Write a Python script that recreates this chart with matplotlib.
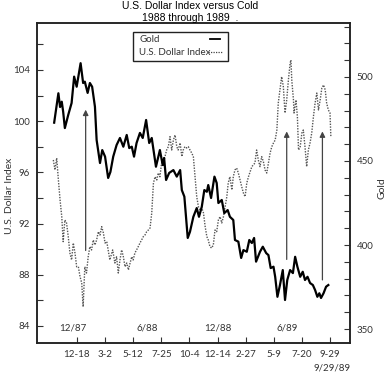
import numpy as np
import matplotlib
matplotlib.use("Agg")
import matplotlib.pyplot as plt
from matplotlib.patches import Rectangle

# eje x en semanas (12-18 = semana 10, una marca cada 10 semanas)
semanas_ticks = [10, 20, 30, 40, 50, 60, 70, 80, 90, 100]
etiquetas_ticks = ['12-18', '3-2', '5-12', '7-25', '10-4', '12-14', '2-27', '5-9', '7-20', '9-29']

# Oro (eje derecho)
x_gold = [1.9, 3.4, 4.0, 4.6, 5.1, 5.7, 6.9, 8.1, 9.0, 9.9,
          11.3, 12.2, 12.8, 13.8, 14.6, 15.4, 16.4, 17.0, 18.2, 19.0,
          20.0, 21.1, 21.9, 22.9, 24.1, 25.3, 26.5, 27.7, 28.6, 29.5,
          30.3, 31.2, 32.4, 33.4, 34.6, 35.7, 36.6, 38.1, 39.5, 40.5,
          41.0, 41.7, 42.8, 44.3, 45.5, 46.7, 47.3, 48.2, 49.4, 50.2,
          51.4, 52.6, 53.4, 54.4, 55.3, 56.2, 56.7, 57.7, 58.9, 59.7,
          60.3, 61.5, 62.4, 63.6, 64.4, 65.6, 66.2, 67.4, 68.4, 69.2,
          70.4, 71.3, 72.2, 73.0, 73.7, 75.1, 76.1, 77.3, 78.1, 78.9,
          79.9, 80.5, 81.3, 82.2, 83.2, 84.0, 84.8, 85.8, 86.8, 87.6,
          88.4, 89.4, 90.3, 91.1, 92.0, 92.9, 93.9, 94.7, 95.5, 96.2,
          96.8, 97.7, 98.6, 99.4]
gold = [472.8, 490.3, 482.1, 485.3, 479.3, 469.6, 477.4, 484.5, 500.2, 494.2,
        508.2, 496.4, 497.2, 490.5, 496.4, 494.2, 482.3, 462.5, 448.8, 456.5,
        452.6, 439.9, 443.5, 452.6, 459.5, 463.7, 458.5, 465.5, 457.7, 458.5,
        452.6, 460.7, 466.7, 463.7, 474.4, 460.7, 463.7, 446.6, 456.5, 447.6,
        451.8, 438.7, 442.9, 444.6, 440.7, 444.6, 432.7, 428.8, 404.2, 407.9,
        416.8, 422.0, 416.8, 422.8, 432.7, 431.7, 435.7, 428.0, 440.7, 436.9,
        425.0, 426.8, 419.0, 420.8, 416.8, 414.9, 403.0, 402.0, 392.3, 397.0,
        396.0, 403.0, 401.2, 404.2, 390.1, 396.0, 399.0, 395.2, 394.0, 386.3,
        387.1, 381.1, 369.2, 376.2, 385.1, 367.3, 379.2, 385.1, 383.3, 393.0,
        387.1, 381.1, 384.1, 379.2, 381.1, 377.4, 376.2, 373.2, 369.2, 371.3,
        368.5, 371.3, 375.2, 376.2]

# Indice del dolar (eje izquierdo)
x_dollar = [1.6, 2.2, 2.8, 3.4, 4.0, 4.6, 5.1, 5.7, 6.3, 6.9,
            7.5, 8.1, 8.7, 9.3, 9.9, 10.5, 11.1, 11.7, 12.2, 12.8,
            13.4, 14.0, 14.6, 15.2, 15.8, 16.4, 17.0, 17.6, 18.2, 18.8,
            19.4, 20.0, 20.6, 21.1, 21.7, 22.7, 23.5, 24.1, 24.7, 25.3,
            25.9, 26.5, 27.1, 27.7, 28.3, 28.9, 29.5, 30.0, 30.6, 31.2,
            31.8, 32.4, 33.0, 33.6, 34.2, 34.8, 35.4, 36.0, 36.6, 37.2,
            37.8, 38.4, 38.9, 39.5, 40.1, 40.7, 41.3, 41.9, 42.5, 43.1,
            43.7, 44.3, 44.9, 45.5, 46.0, 46.7, 47.3, 47.8, 48.4, 49.0,
            49.6, 50.2, 50.8, 51.4, 52.0, 52.6, 53.2, 53.8, 54.4, 55.0,
            55.6, 56.2, 56.7, 57.3, 57.9, 58.5, 59.1, 59.7, 60.3, 60.9,
            61.5, 62.1, 62.7, 63.3, 63.8, 64.4, 65.1, 65.6, 66.2, 66.8,
            67.4, 68.0, 68.6, 69.2, 69.8, 70.4, 71.0, 71.6, 72.2, 72.7,
            73.3, 73.9, 74.5, 75.1, 75.7, 76.3, 76.9, 77.5, 78.1, 78.7,
            79.3, 79.9, 80.5, 81.1, 81.6, 82.2, 82.8, 83.4, 84.0, 84.6,
            85.2, 85.8, 86.1, 86.4, 87.0, 87.2, 87.9, 88.4, 88.8, 89.4,
            90.0, 90.5, 91.1, 91.7, 92.3, 92.9, 93.5, 94.1, 94.7, 95.3,
            95.9, 96.5, 97.1, 97.7, 98.3, 98.8, 99.4, 100.0, 100.3]
dollar = [96.97, 96.19, 97.12, 95.41, 93.84, 92.54, 90.59, 92.28, 92.05, 91.0,
          89.7, 89.16, 90.48, 89.7, 88.63, 88.63, 87.85, 87.36, 85.5, 88.63,
          88.14, 89.41, 90.2, 89.94, 90.72, 90.33, 90.72, 91.37, 91.11, 91.76,
          91.27, 90.48, 90.59, 89.94, 89.16, 89.94, 88.92, 89.41, 88.14, 89.16,
          89.94, 89.41, 88.63, 88.92, 88.38, 88.92, 89.41, 89.16, 89.7, 89.94,
          90.2, 90.48, 90.72, 90.98, 91.11, 91.37, 91.5, 91.66, 92.83, 95.17,
          95.66, 95.41, 95.95, 95.66, 96.73, 96.97, 97.23, 97.75, 98.01, 98.79,
          97.75, 98.53, 98.92, 98.01, 97.75, 98.3, 97.23, 97.75, 98.01, 97.91,
          98.01, 97.75, 97.52, 97.23, 95.66, 94.1, 93.32, 93.06, 93.22, 92.83,
          91.76, 90.98, 90.72, 90.2, 90.09, 90.33, 91.5, 91.37, 92.28, 92.54,
          92.05, 92.54, 93.32, 94.1, 95.17, 95.66, 94.63, 95.66, 96.19, 96.34,
          95.95, 95.41, 94.88, 94.39, 94.1, 95.17, 95.66, 96.05, 96.45, 96.58,
          96.73, 97.75, 96.97, 96.45, 97.23, 96.84, 96.19, 95.95, 96.73, 97.52,
          98.01, 98.3, 98.53, 99.31, 101.42, 102.44, 103.48, 102.7, 100.64, 101.66,
          103.22, 104.52, 104.78, 103.22, 101.66, 100.64, 101.66, 100.35, 97.75, 98.01,
          99.08, 99.31, 98.01, 96.45, 97.75, 98.3, 99.08, 100.35, 101.42, 102.2,
          100.88, 101.66, 102.59, 102.83, 102.44, 101.42, 100.88, 100.64, 98.79]

# flechas verticales (semana, desde, hasta) en unidades del indice
flechas = [(13.1, 89.9, 100.9), (84.6, 89.2, 99.2), (97.3, 87.6, 99.2)]

# textos de fecha dentro del grafico
fechas = ['12/87', '6/88', '12/88', '6/89']
x_fechas = [8.6, 34.9, 60.2, 84.7]


if __name__ == '__main__':
    plt.rcParams['font.family'] = ['Lato', 'DejaVu Sans']
    gris = '#333333'

    fig = plt.figure(figsize=(3.88, 3.81), dpi=100)
    ax = fig.add_axes([0.0954, 0.0997, 0.8066, 0.8399])
    ax2 = ax.twinx()

    ax.plot(x_dollar, dollar, color='#555555', linestyle=(0, (1, 1)), linewidth=1.0)
    ax2.plot(x_gold, gold, color='black', linewidth=1.6)

    for x, y0, y1 in flechas:
        ax.annotate('', xy=(x, y1), xytext=(x, y0),
                    arrowprops=dict(arrowstyle='-|>', color='#444444', lw=0.9,
                                    mutation_scale=8, shrinkA=0, shrinkB=0))

    ax.set_xlim(-4.2, 107.1)
    ax.set_ylim(82.67, 107.67)
    ax2.set_ylim(341.7, 532.1)

    ax.set_xticks(semanas_ticks)
    ax.set_xticklabels(etiquetas_ticks)
    ax.set_yticks([84, 88, 92, 96, 100, 104])
    ax.set_yticks(np.arange(84, 108, 2), minor=True)
    ax2.set_yticks([350, 400, 450, 500])
    ax2.set_yticks(np.arange(350, 531, 10), minor=True)

    for a in (ax, ax2):
        a.tick_params(which='both', direction='in', length=4, width=0.8,
                      labelsize=7, pad=5, colors=gris)
        for s in a.spines.values():
            s.set_linewidth(1.1)
            s.set_color('#222222')

    for t, x in zip(fechas, x_fechas):
        ax.text(x, 83.84, t, ha='center', va='center', fontsize=7, color=gris)

    ax.set_ylabel('U.S. Dollar Index', fontsize=7.5, color=gris)
    ax.yaxis.set_label_coords(-0.072, 0.46)
    ax2.set_ylabel('Gold', fontsize=7.5, color=gris)
    ax2.yaxis.set_label_coords(1.088, 0.484)

    fig.text(332 / 388, 1 - 368 / 381, '9/29/89', ha='center', va='center',
             fontsize=7, color=gris)

    # leyenda dibujada a mano (texto a la izquierda, muestra a la derecha)
    ax.add_patch(Rectangle((0.307, 0.881), 0.303, 0.091, transform=ax.transAxes,
                           facecolor='white', edgecolor='#222222', linewidth=1.0, zorder=5))
    ax.text(0.326, 0.947, 'Gold', transform=ax.transAxes, fontsize=7,
            va='center', color=gris, zorder=6)
    ax.text(0.326, 0.909, 'U.S. Dollar Index', transform=ax.transAxes, fontsize=7,
            va='center', color=gris, zorder=6)
    ax.plot([0.553, 0.585], [0.95, 0.95], transform=ax.transAxes, color='black',
            linewidth=1.3, zorder=6)
    ax.plot([0.546, 0.591], [0.909, 0.909], transform=ax.transAxes, color='#444444',
            linestyle=(0, (1, 1)), linewidth=0.9, zorder=6)

    fig.text(0.49, 1 - 6 / 381, 'U.S. Dollar Index versus Cold', ha='center', va='center',
             fontsize=7.5, family='Liberation Sans', color='black')
    fig.text(0.49, 1 - 18 / 381, '1988 through 1989  .', ha='center', va='center',
             fontsize=7.5, family='Liberation Sans', color='black')

    fig.savefig('out.png', dpi=100)
